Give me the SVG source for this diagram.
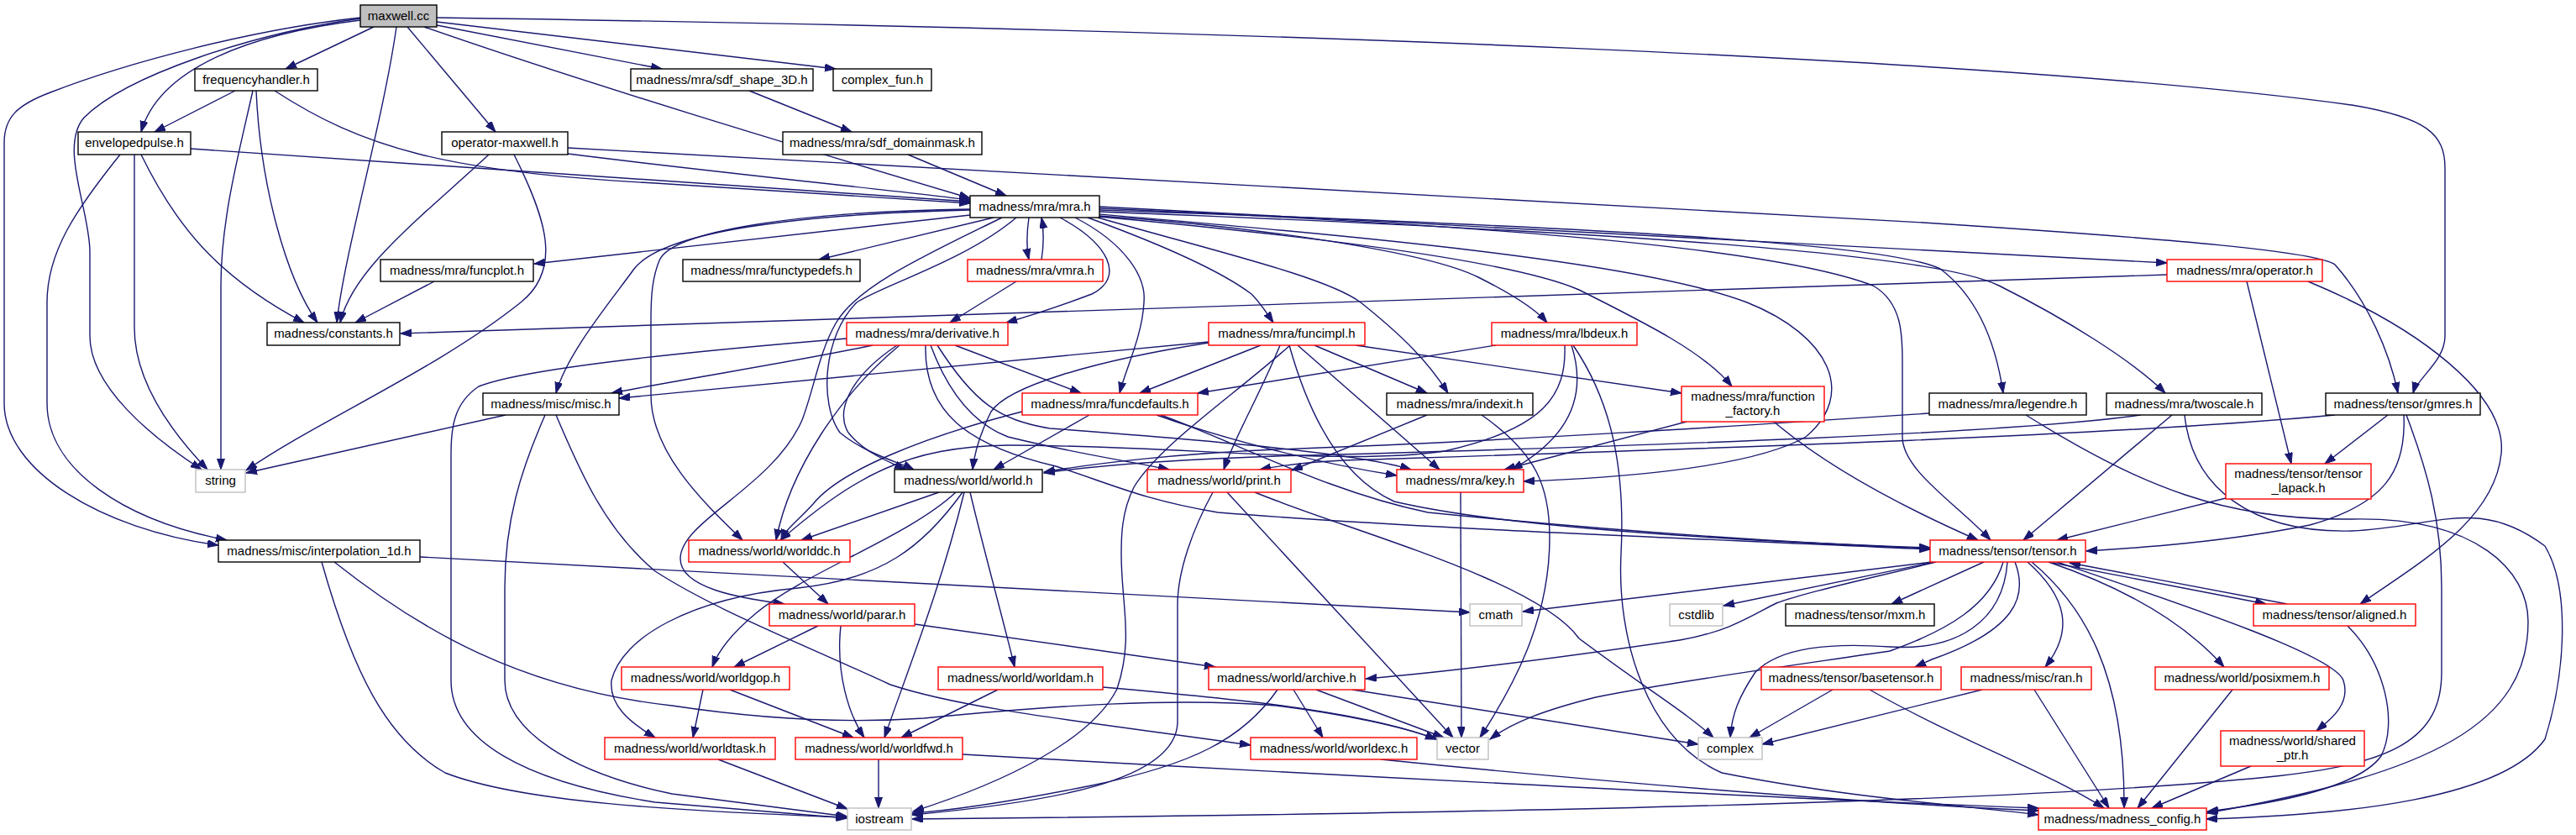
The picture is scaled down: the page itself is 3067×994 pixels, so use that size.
<svg xmlns="http://www.w3.org/2000/svg" width="3067" height="994" viewBox="0 0 3067 994">
<style>
.n rect{fill:#fff;stroke-width:1.4}
.k rect{stroke:#000}
.r rect{stroke:#ff0000}
.g rect{stroke:#bfbfbf}
.n text{font-family:"Liberation Sans",Arial,sans-serif;font-size:15px;text-anchor:middle;fill:#000}
.e path{fill:none;stroke:#191970;stroke-width:1.4;marker-end:url(#a)}
</style>
<defs>
<marker id="a" markerWidth="14" markerHeight="11" refX="13" refY="4.5" orient="auto" markerUnits="userSpaceOnUse"><path d="M0,0 L13,4.5 L0,9 z" fill="#191970" stroke="#191970" stroke-width="1"/></marker>
</defs>
<rect width="3067" height="994" fill="#fff"/>
<g id="edges" class="e">
<path d="M445,32 L340,82"/>
<path d="M429,24 C300,40 190,80 168,157"/>
<path d="M485,32 L590,157"/>
<path d="M520,30 L788,82"/>
<path d="M520,26 L995,82"/>
<path d="M505,32 C700,100 950,175 1155,236"/>
<path d="M472,32 C455,150 410,300 401,384"/>
<path d="M429,22 C300,40 150,90 100,140 C70,175 107,250 107,300 L107,400 C107,460 180,520 240,559"/>
<path d="M429,21 C300,35 150,75 60,110 C20,125 5,140 5,170 L5,480 C5,560 120,630 260,649"/>
<path d="M520,21 C1500,35 2400,70 2800,125 C2890,140 2911,160 2911,200 L2911,400 C2911,430 2878,450 2873,468"/>
<path d="M280,108 L184,157"/>
<path d="M301,108 C285,180 263,260 263,340 L263,559"/>
<path d="M305,108 C310,220 340,330 378,384"/>
<path d="M327,108 C430,175 530,205 780,218 L1155,242"/>
<path d="M227,177 L1155,240"/>
<path d="M168,184 C210,270 260,330 362,384"/>
<path d="M160,184 L160,390 C160,450 200,510 247,559"/>
<path d="M143,184 C90,250 56,300 56,360 L56,480 C56,560 150,620 270,643"/>
<path d="M676,183 C850,205 1050,225 1155,238"/>
<path d="M582,184 C500,260 420,320 405,384"/>
<path d="M612,184 C650,260 670,320 620,360 C520,440 380,500 293,560"/>
<path d="M676,176 L2290,265 C2600,285 2760,300 2780,315 C2820,360 2845,420 2855,468"/>
<path d="M892,108 L1014,157"/>
<path d="M1081,184 L1198,233"/>
<path d="M1155,256 L636,314"/>
<path d="M1183,259 L975,309"/>
<path d="M1225,259 C1222,280 1222,295 1225,309"/>
<path d="M1240,309 C1243,290 1243,275 1240,259"/>
<path d="M1262,259 C1320,290 1340,330 1300,350 C1260,365 1230,375 1198,384"/>
<path d="M1295,259 C1380,290 1450,320 1490,350 C1500,360 1510,375 1516,384"/>
<path d="M1280,259 C1340,290 1365,330 1362,360 C1360,400 1340,440 1333,468"/>
<path d="M1309,257 C1500,270 1700,300 1760,330 C1800,350 1830,370 1842,384"/>
<path d="M1307,259 C1450,300 1580,330 1620,360 C1670,400 1700,430 1724,468"/>
<path d="M1309,258 C1550,280 1800,310 1880,345 C1960,385 2030,420 2062,460"/>
<path d="M1309,255 C1600,280 1950,310 2080,360 C2180,400 2210,470 2150,520 C2080,560 1900,570 1814,573"/>
<path d="M1309,248 C1700,265 2100,290 2230,340 C2265,360 2265,400 2265,430 L2265,520 C2265,560 2330,600 2370,643"/>
<path d="M1309,250 C1900,270 2250,290 2310,320 C2350,350 2375,400 2385,468"/>
<path d="M1309,252 C1900,275 2300,300 2380,340 C2460,380 2540,430 2578,468"/>
<path d="M1309,246 L2580,313"/>
<path d="M1155,250 C950,255 790,275 755,320 C730,355 675,420 662,468"/>
<path d="M1155,249 C950,252 800,275 785,310 C777,330 775,350 775,380 L775,470 C775,540 840,600 884,643"/>
<path d="M1193,259 C1110,300 1020,340 995,385 C975,420 970,460 955,500 C920,580 810,620 810,665 C810,700 880,712 934,719"/>
<path d="M1210,259 C1150,310 1050,340 1020,360 C980,400 975,480 1000,515 C1030,540 1070,550 1088,559"/>
<path d="M1210,335 L1131,384"/>
<path d="M1039,411 C950,430 820,450 728,468"/>
<path d="M1008,403 C800,420 620,440 570,460 C540,480 537,510 537,540 L537,810 C537,880 620,930 780,955 L1009,974"/>
<path d="M1137,411 L1287,468"/>
<path d="M1068,411 C1010,450 995,490 1010,515 C1030,540 1060,550 1078,559"/>
<path d="M1071,411 C1000,470 940,560 924,643"/>
<path d="M1108,411 C1130,470 1160,505 1200,520 C1280,540 1350,550 1392,559"/>
<path d="M1116,411 C1160,480 1190,500 1250,510 C1450,525 1620,540 1680,559"/>
<path d="M1102,411 C1100,490 1150,530 1257,555 C1320,575 1360,595 1450,610 C1700,630 2000,640 2298,654"/>
<path d="M1439,407 L737,474"/>
<path d="M1439,408 C1300,430 1200,460 1180,490 C1165,520 1160,540 1158,559"/>
<path d="M1501,411 L1357,468"/>
<path d="M1524,411 C1500,470 1470,520 1457,559"/>
<path d="M1536,411 C1470,470 1380,530 1350,580 C1335,610 1335,640 1335,660 C1335,720 1350,760 1330,820 C1300,880 1200,930 1087,966"/>
<path d="M1545,411 L1714,559"/>
<path d="M1565,411 L1699,468"/>
<path d="M1614,411 L2002,468"/>
<path d="M1535,411 C1560,500 1600,570 1660,597 C1800,630 2100,645 2298,652"/>
<path d="M1781,411 L1426,468"/>
<path d="M1871,411 C1890,470 1870,520 1800,559"/>
<path d="M1863,411 C1865,470 1840,510 1720,537 C1600,555 1400,530 1200,530 C1080,532 1020,565 929,643"/>
<path d="M1873,411 C1920,480 1935,560 1930,660 C1925,760 1960,880 2050,920 C2200,950 2350,960 2427,970"/>
<path d="M1297,494 L1183,559"/>
<path d="M1217,490 C1100,520 1000,560 968,600 C950,620 935,630 930,643"/>
<path d="M1377,494 C1450,520 1560,550 1663,566"/>
<path d="M1382,494 C1480,530 1580,585 1700,610 C1900,630 2100,645 2298,653"/>
<path d="M1699,494 L1538,560"/>
<path d="M1764,494 C1830,540 1845,580 1845,640 C1845,740 1800,820 1762,878"/>
<path d="M2008,502 L1791,559"/>
<path d="M2112,502 C2180,560 2280,610 2355,643"/>
<path d="M2297,492 C2100,505 1800,525 1520,535 C1400,540 1300,552 1243,562"/>
<path d="M2549,494 C2400,515 2000,530 1520,543 C1400,547 1300,555 1243,563"/>
<path d="M2780,494 C2500,520 2000,535 1600,548 C1560,550 1530,553 1500,559"/>
<path d="M2412,494 C2550,580 2650,620 2800,618 C2950,615 3010,680 3010,740 C3010,860 2900,920 2627,968"/>
<path d="M2586,494 L2409,643"/>
<path d="M2601,494 C2610,580 2680,635 2800,632 C2900,628 2950,590 3030,650 C3060,700 3055,800 3030,880 C2980,950 2800,970 2627,975"/>
<path d="M2843,494 L2768,552"/>
<path d="M2862,494 C2865,560 2840,600 2750,625 C2650,645 2550,652 2484,656"/>
<path d="M2865,494 C2890,560 2907,620 2907,700 L2907,800 C2907,880 2850,910 2700,925 C2400,955 1800,968 1086,975"/>
<path d="M2580,327 L477,397"/>
<path d="M2675,335 L2728,552"/>
<path d="M2748,335 C2880,390 2985,470 2978,540 C2970,620 2880,670 2810,719"/>
<path d="M2650,593 L2449,643"/>
<path d="M1444,586 C1420,630 1402,680 1402,720 L1402,860 C1400,930 1250,955 1086,970"/>
<path d="M1461,586 L1730,878"/>
<path d="M1494,586 C1600,630 1830,690 1880,760 C1960,820 2010,850 2040,878"/>
<path d="M1739,586 L1740,878"/>
<path d="M1118,586 L954,643"/>
<path d="M1138,586 C1080,640 960,680 900,730 C870,755 855,775 848,794"/>
<path d="M1146,586 C1100,650 1050,690 950,700 C820,712 740,760 728,810 C725,840 750,860 780,878"/>
<path d="M1148,586 C1120,700 1080,800 1053,878"/>
<path d="M1155,586 C1170,650 1195,740 1208,794"/>
<path d="M932,669 L986,719"/>
<path d="M974,745 L874,794"/>
<path d="M1001,745 C995,800 1010,850 1029,878"/>
<path d="M1089,743 L1447,794"/>
<path d="M837,821 L825,878"/>
<path d="M869,821 L1016,878"/>
<path d="M1188,821 L1073,878"/>
<path d="M1313,818 C1450,830 1620,845 1710,880"/>
<path d="M1540,821 L1575,878"/>
<path d="M1567,821 L1719,878"/>
<path d="M1610,821 L2022,886"/>
<path d="M1521,821 C1480,880 1420,910 1300,935 C1200,955 1130,965 1086,968"/>
<path d="M500,663 L1750,729"/>
<path d="M398,669 C500,750 620,820 800,840 C900,855 1000,862 1100,855 C1250,840 1400,830 1520,840 C1600,850 1670,865 1710,880"/>
<path d="M383,669 C420,800 460,880 530,920 C620,955 800,965 1008,973"/>
<path d="M602,494 L293,563"/>
<path d="M649,494 C620,560 601,620 601,700 L601,810 C601,870 680,920 800,945 L1009,972"/>
<path d="M662,494 C690,560 720,630 780,680 C850,725 940,760 1060,815 C1150,845 1300,860 1489,887"/>
<path d="M855,904 L1009,963"/>
<path d="M1046,904 L1046,962"/>
<path d="M1146,898 C1500,918 2100,950 2427,962"/>
<path d="M1644,904 C1900,930 2200,955 2427,965"/>
<path d="M2300,669 L1813,728"/>
<path d="M2303,669 L2052,721"/>
<path d="M2362,669 L2252,719"/>
<path d="M2305,669 C2220,690 2150,705 2115,718 C2090,730 2060,752 2000,762 C1850,784 1720,800 1626,808"/>
<path d="M2385,669 C2370,720 2320,750 2250,775 C2150,790 2000,810 1900,830 C1840,845 1800,860 1774,880"/>
<path d="M2390,669 C2385,740 2330,775 2250,770 C2180,765 2120,770 2090,800 C2070,830 2062,850 2060,878"/>
<path d="M2399,669 C2415,710 2400,750 2300,785 L2280,794"/>
<path d="M2414,669 C2460,710 2470,750 2435,794"/>
<path d="M2419,669 C2480,720 2530,800 2529,962"/>
<path d="M2439,669 C2530,700 2600,740 2648,794"/>
<path d="M2449,669 C2600,720 2780,780 2790,810 C2800,840 2770,860 2758,870"/>
<path d="M2444,670 L2698,719"/>
<path d="M2723,719 L2464,670"/>
<path d="M2182,821 L2083,878"/>
<path d="M2226,821 C2330,880 2440,920 2505,962"/>
<path d="M2360,821 L2098,886"/>
<path d="M2422,821 L2511,962"/>
<path d="M2658,821 L2545,962"/>
<path d="M2680,912 L2562,962"/>
<path d="M2795,745 C2840,790 2855,860 2835,900 C2810,935 2720,955 2628,966"/>
<path d="M517,335 L423,384"/>
</g>
<g id="n-maxwell" class="n k"><rect x="429" y="6" width="91" height="26" style="fill:#bfbfbf"/><text x="474.5" y="24">maxwell.cc</text></g>
<g id="n-frequencyhandler" class="n k"><rect x="232" y="82" width="146" height="26"/><text x="305" y="100">frequencyhandler.h</text></g>
<g id="n-sdf_shape_3D" class="n k"><rect x="751" y="82" width="217" height="26"/><text x="859.5" y="100">madness/mra/sdf_shape_3D.h</text></g>
<g id="n-complex_fun" class="n k"><rect x="992" y="82" width="117" height="26"/><text x="1050.5" y="100">complex_fun.h</text></g>
<g id="n-envelopedpulse" class="n k"><rect x="93" y="157" width="134" height="27"/><text x="160" y="175">envelopedpulse.h</text></g>
<g id="n-operator-maxwell" class="n k"><rect x="526" y="157" width="150" height="27"/><text x="601" y="175">operator-maxwell.h</text></g>
<g id="n-sdf_domainmask" class="n k"><rect x="932" y="157" width="237" height="27"/><text x="1050.5" y="175">madness/mra/sdf_domainmask.h</text></g>
<g id="n-mra" class="n k"><rect x="1155" y="233" width="154" height="26"/><text x="1232" y="251">madness/mra/mra.h</text></g>
<g id="n-funcplot" class="n k"><rect x="453" y="309" width="182" height="26"/><text x="544" y="327">madness/mra/funcplot.h</text></g>
<g id="n-functypedefs" class="n k"><rect x="813" y="309" width="211" height="26"/><text x="918.5" y="327">madness/mra/functypedefs.h</text></g>
<g id="n-vmra" class="n r"><rect x="1152" y="309" width="161" height="26"/><text x="1232.5" y="327">madness/mra/vmra.h</text></g>
<g id="n-operator" class="n r"><rect x="2580" y="309" width="185" height="26"/><text x="2672.5" y="327">madness/mra/operator.h</text></g>
<g id="n-constants" class="n k"><rect x="318" y="384" width="158" height="27"/><text x="397" y="402">madness/constants.h</text></g>
<g id="n-derivative" class="n r"><rect x="1008" y="384" width="192" height="27"/><text x="1104" y="402">madness/mra/derivative.h</text></g>
<g id="n-funcimpl" class="n r"><rect x="1439" y="384" width="186" height="27"/><text x="1532" y="402">madness/mra/funcimpl.h</text></g>
<g id="n-lbdeux" class="n r"><rect x="1776" y="384" width="173" height="27"/><text x="1862.5" y="402">madness/mra/lbdeux.h</text></g>
<g id="n-misc" class="n k"><rect x="575" y="468" width="162" height="26"/><text x="656" y="486">madness/misc/misc.h</text></g>
<g id="n-funcdefaults" class="n r"><rect x="1217" y="468" width="209" height="26"/><text x="1321.5" y="486">madness/mra/funcdefaults.h</text></g>
<g id="n-indexit" class="n k"><rect x="1651" y="468" width="174" height="26"/><text x="1738" y="486">madness/mra/indexit.h</text></g>
<g id="n-function_factory" class="n r"><rect x="2002" y="460" width="170" height="42"/><text x="2087" y="477">madness/mra/function</text><text x="2087" y="494">_factory.h</text></g>
<g id="n-legendre" class="n k"><rect x="2297" y="468" width="187" height="26"/><text x="2390.5" y="486">madness/mra/legendre.h</text></g>
<g id="n-twoscale" class="n k"><rect x="2508" y="468" width="185" height="26"/><text x="2600.5" y="486">madness/mra/twoscale.h</text></g>
<g id="n-gmres" class="n k"><rect x="2769" y="468" width="184" height="26"/><text x="2861" y="486">madness/tensor/gmres.h</text></g>
<g id="n-string" class="n g"><rect x="233" y="559" width="59" height="27"/><text x="262.5" y="577">string</text></g>
<g id="n-world" class="n k"><rect x="1065" y="559" width="176" height="27"/><text x="1153" y="577">madness/world/world.h</text></g>
<g id="n-print" class="n r"><rect x="1366" y="559" width="171" height="27"/><text x="1451.5" y="577">madness/world/print.h</text></g>
<g id="n-key" class="n r"><rect x="1663" y="559" width="151" height="27"/><text x="1738.5" y="577">madness/mra/key.h</text></g>
<g id="n-tensor_lapack" class="n r"><rect x="2650" y="552" width="173" height="42"/><text x="2736.5" y="569">madness/tensor/tensor</text><text x="2736.5" y="586">_lapack.h</text></g>
<g id="n-interpolation_1d" class="n k"><rect x="260" y="643" width="240" height="26"/><text x="380" y="661">madness/misc/interpolation_1d.h</text></g>
<g id="n-worlddc" class="n r"><rect x="820" y="643" width="192" height="26"/><text x="916" y="661">madness/world/worlddc.h</text></g>
<g id="n-tensor" class="n r"><rect x="2298" y="643" width="185" height="26"/><text x="2390.5" y="661">madness/tensor/tensor.h</text></g>
<g id="n-parar" class="n r"><rect x="916" y="719" width="173" height="26"/><text x="1002.5" y="737">madness/world/parar.h</text></g>
<g id="n-cmath" class="n g"><rect x="1750" y="719" width="62" height="26"/><text x="1781" y="737">cmath</text></g>
<g id="n-cstdlib" class="n g"><rect x="1988" y="719" width="63" height="26"/><text x="2019.5" y="737">cstdlib</text></g>
<g id="n-mxm" class="n k"><rect x="2126" y="719" width="177" height="26"/><text x="2214.5" y="737">madness/tensor/mxm.h</text></g>
<g id="n-aligned" class="n r"><rect x="2683" y="719" width="193" height="26"/><text x="2779.5" y="737">madness/tensor/aligned.h</text></g>
<g id="n-worldgop" class="n r"><rect x="740" y="794" width="200" height="27"/><text x="840" y="812">madness/world/worldgop.h</text></g>
<g id="n-worldam" class="n r"><rect x="1117" y="794" width="196" height="27"/><text x="1215" y="812">madness/world/worldam.h</text></g>
<g id="n-archive" class="n r"><rect x="1439" y="794" width="186" height="27"/><text x="1532" y="812">madness/world/archive.h</text></g>
<g id="n-basetensor" class="n r"><rect x="2097" y="794" width="214" height="27"/><text x="2204" y="812">madness/tensor/basetensor.h</text></g>
<g id="n-ran" class="n r"><rect x="2335" y="794" width="155" height="27"/><text x="2412.5" y="812">madness/misc/ran.h</text></g>
<g id="n-posixmem" class="n r"><rect x="2566" y="794" width="207" height="27"/><text x="2669.5" y="812">madness/world/posixmem.h</text></g>
<g id="n-worldtask" class="n r"><rect x="720" y="878" width="203" height="26"/><text x="821.5" y="896">madness/world/worldtask.h</text></g>
<g id="n-worldfwd" class="n r"><rect x="947" y="878" width="199" height="26"/><text x="1046.5" y="896">madness/world/worldfwd.h</text></g>
<g id="n-worldexc" class="n r"><rect x="1489" y="878" width="198" height="26"/><text x="1588" y="896">madness/world/worldexc.h</text></g>
<g id="n-vector" class="n g"><rect x="1711" y="878" width="61" height="26"/><text x="1741.5" y="896">vector</text></g>
<g id="n-complex" class="n g"><rect x="2022" y="878" width="76" height="26"/><text x="2060" y="896">complex</text></g>
<g id="n-shared_ptr" class="n r"><rect x="2644" y="870" width="171" height="42"/><text x="2729.5" y="887">madness/world/shared</text><text x="2729.5" y="904">_ptr.h</text></g>
<g id="n-iostream" class="n g"><rect x="1009" y="962" width="76" height="26"/><text x="1047" y="980">iostream</text></g>
<g id="n-madness_config" class="n r"><rect x="2427" y="962" width="200" height="26"/><text x="2527" y="980">madness/madness_config.h</text></g>
</svg>
